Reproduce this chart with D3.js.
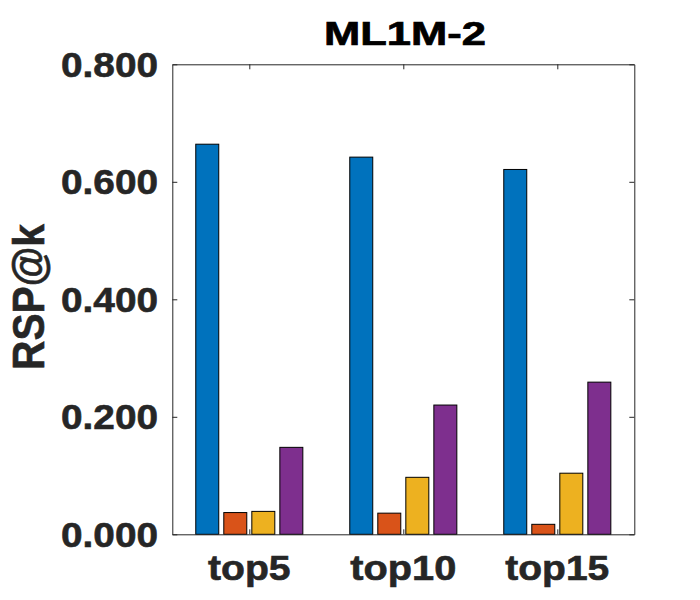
<!DOCTYPE html>
<html>
<head>
<meta charset="utf-8">
<script src="https://cdn.jsdelivr.net/npm/d3@7"></script>
<style>
  body { margin: 0; background: #fff; }
  text { font-family: "Liberation Sans", Arial, sans-serif; font-weight: bold; }
</style>
</head>
<body>
<main></main>
<script>
// chart data
const categories = ["top5", "top10", "top15"];
const seriesNames = ["s1", "s2", "s3", "s4"];
const s1 = [0.664, 0.642, 0.621];
const s2 = [0.037, 0.036, 0.017];
const s3 = [0.039, 0.097, 0.104];
const s4 = [0.148, 0.220, 0.259];
const yTicks = [0, 0.2, 0.4, 0.6, 0.8];
const colors = ["#0072BD", "#D95319", "#EDB120", "#7E2F8E"];

const svgSize = { width: 700, height: 600 };
const plot = { left: 172.3, right: 634.3, top: 64.3, bottom: 534.3 };
const ink = "#262626";

const createCanvas = () => {
  return d3.select("main")
           .append("svg")
           .attr("width", svgSize.width)
           .attr("height", svgSize.height);
};

const defineScales = () => {
  const xScale = d3.scaleLinear()
                   .domain([0.5, categories.length + 0.5])
                   .range([plot.left, plot.right]);
  const yScale = d3.scaleLinear()
                   .domain([0, 0.8])
                   .range([plot.bottom, plot.top]);
  // bars inside one group (matlab style grouped bars)
  const half = xScale(1.364) - xScale(1);
  const inner = d3.scaleBand()
                  .domain(seriesNames)
                  .range([-half, half])
                  .paddingInner(0.18)
                  .paddingOuter(0.09);
  return { xScale, yScale, inner };
};

const createBars = (svg, scales) => {
  const all = [s1, s2, s3, s4];
  const rows = [];
  all.forEach((vals, si) => {
    vals.forEach((v, ci) => rows.push({ si, ci, v }));
  });
  svg.append("g")
     .selectAll("rect")
     .data(rows)
     .enter()
     .append("rect")
     .attr("x", (d) => scales.xScale(d.ci + 1) + scales.inner(seriesNames[d.si]))
     .attr("y", (d) => scales.yScale(d.v))
     .attr("width", scales.inner.bandwidth())
     .attr("height", (d) => scales.yScale(0) - scales.yScale(d.v))
     .attr("fill", (d) => colors[d.si])
     .attr("stroke", "#000")
     .attr("stroke-width", 1);
};

const createAxes = (svg, scales) => {
  const xt = categories.map((c, i) => i + 1);

  const bottom = svg.append("g")
     .attr("transform", `translate(0, ${plot.bottom})`)
     .call(d3.axisBottom(scales.xScale).tickValues(xt).tickSizeInner(-5).tickSizeOuter(0).tickFormat(""));
  const top = svg.append("g")
     .attr("transform", `translate(0, ${plot.top})`)
     .call(d3.axisTop(scales.xScale).tickValues(xt).tickSizeInner(-5).tickSizeOuter(0).tickFormat(""));
  const left = svg.append("g")
     .attr("transform", `translate(${plot.left}, 0)`)
     .call(d3.axisLeft(scales.yScale).tickValues(yTicks).tickSizeInner(-5).tickSizeOuter(0).tickFormat(""));
  const right = svg.append("g")
     .attr("transform", `translate(${plot.right}, 0)`)
     .call(d3.axisRight(scales.yScale).tickValues(yTicks).tickSizeInner(-5).tickSizeOuter(0).tickFormat(""));

  [bottom, top, left, right].forEach((g) => {
    g.selectAll("path, line").attr("stroke", ink).attr("stroke-width", 1);
  });

  // tick labels
  svg.append("g")
     .selectAll("text")
     .data(yTicks)
     .enter()
     .append("text")
     .attr("x", 158)
     .attr("y", (d) => scales.yScale(d) + 12.3)
     .attr("text-anchor", "end")
     .attr("font-size", 35)
     .attr("fill", ink)
     .attr("stroke", ink)
     .attr("stroke-width", 0.6)
     .attr("textLength", 97)
     .attr("lengthAdjust", "spacingAndGlyphs")
     .text((d) => d3.format(".3f")(d));

  const xLens = [82.6, 106, 104];
  svg.append("g")
     .selectAll("text")
     .data(categories)
     .enter()
     .append("text")
     .attr("x", (d, i) => scales.xScale(i + 1))
     .attr("y", 580)
     .attr("text-anchor", "middle")
     .attr("font-size", 35)
     .attr("fill", ink)
     .attr("stroke", ink)
     .attr("stroke-width", 0.6)
     .attr("textLength", (d, i) => xLens[i])
     .attr("lengthAdjust", "spacingAndGlyphs")
     .text((d) => d);
};

const createLabels = (svg) => {
  svg.append("text")
     .attr("x", 405)
     .attr("y", 45)
     .attr("text-anchor", "middle")
     .attr("font-size", 33)
     .attr("fill", "#000")
     .attr("stroke", "#000")
     .attr("stroke-width", 0.7)
     .attr("textLength", 162)
     .attr("lengthAdjust", "spacingAndGlyphs")
     .text("ML1M-2");

  svg.append("text")
     .attr("transform", "translate(43.5, 297) rotate(-90)")
     .attr("text-anchor", "middle")
     .attr("font-size", 44)
     .attr("fill", ink)
     .attr("stroke", ink)
     .attr("stroke-width", 0.6)
     .attr("textLength", 146)
     .attr("lengthAdjust", "spacingAndGlyphs")
     .text("RSP@k");
};

const driver = () => {
  const svg = createCanvas();
  const scales = defineScales();
  createBars(svg, scales);
  createAxes(svg, scales);
  createLabels(svg);
};
driver();
</script>
</body>
</html>
